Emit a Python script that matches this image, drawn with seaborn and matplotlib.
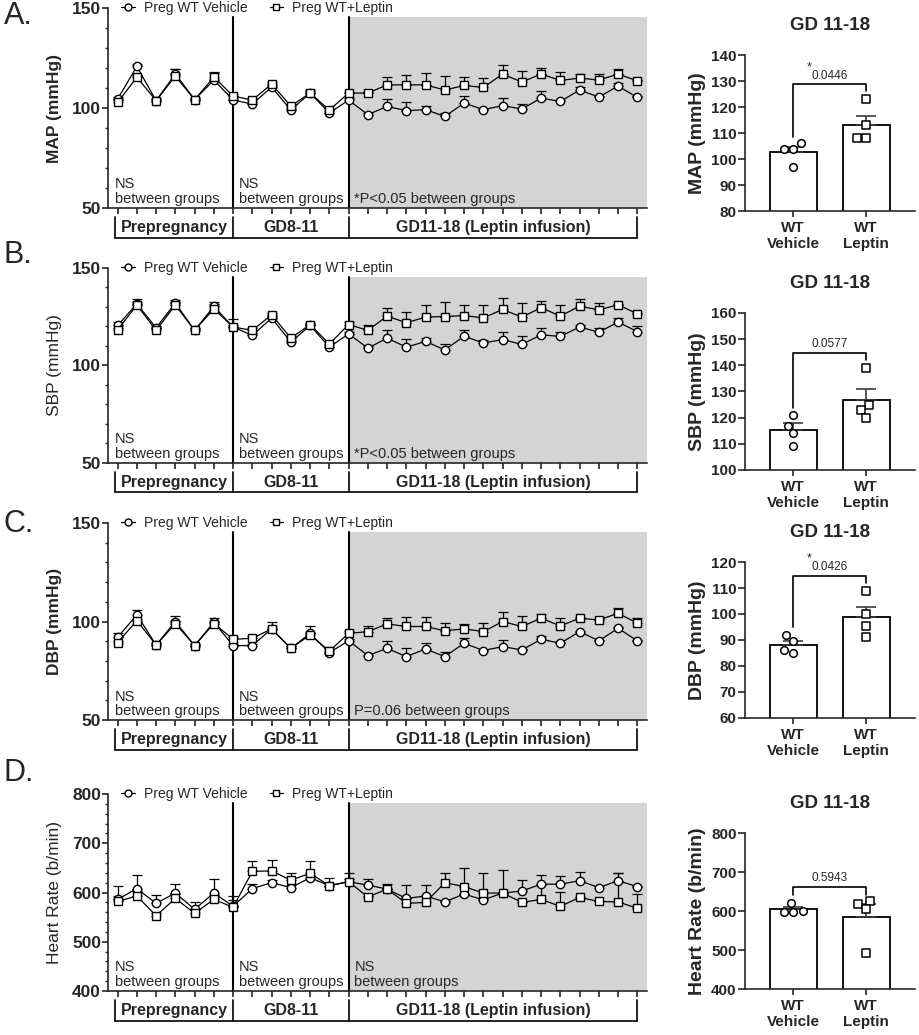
import numpy as np
import matplotlib
matplotlib.use("Agg")
import matplotlib.pyplot as plt
from matplotlib.lines import Line2D
from matplotlib.ticker import MultipleLocator
import seaborn as sns

sns.set_style("ticks")
plt.rcParams["font.family"] = ["Liberation Sans", "DejaVu Sans"]

# ==========================
# Data
# ==========================

days = np.arange(28)   # 0-6 prepregnancy, 6-12 GD8-11, 12-27 GD11-18

# MAP
map_veh = [104.5, 120.8, 103.7, 117.1, 104.2, 114.0, 104.0,
           102.0, 110.5, 99.0, 107.5, 97.5, 104.0,
           96.7, 100.8, 98.7, 99.2, 95.8, 102.5, 99.2, 101.2, 99.5, 105.0, 103.3, 109.0, 105.5, 111.0, 105.3]
map_veh_err = [1, 1, 1, 2.5, 1, 3.5, 1,
               1, 1, 1, 1.5, 1, 1,
               1, 3.9, 4.5, 1.8, 1.5, 3.3, 0.5, 3.8, 2.5, 3.5, 0.5, 1.5, 0.5, 1.5, 0.5]
map_lep = [102.8, 115.4, 103.7, 116.0, 104.2, 115.5, 106.0,
           104.0, 112.0, 101.0, 107.5, 99.0, 107.5,
           107.5, 111.6, 111.6, 111.6, 109.0, 111.3, 110.3, 117.0, 113.0, 117.0, 113.8, 115.0, 114.0, 117.0, 113.6]
map_lep_err = [1, 1, 1, 3.6, 1, 2.5, 1,
               1, 1, 1, 1, 1, 0.5,
               0.5, 3.8, 5, 5.8, 6.8, 4, 4.7, 4.3, 5.6, 3, 4, 2, 3, 2.4, 0.5]

# SBP
sbp_veh = [120.5, 131.6, 119.3, 132.0, 118.0, 130.3, 119.7,
           115.4, 124.3, 112.0, 120.5, 109.4, 116.2,
           108.9, 114.0, 109.4, 112.3, 108.0, 115.0, 111.5, 113.3, 110.8, 115.7, 114.9, 119.7, 117.1, 122.2, 117.4]
sbp_veh_err = [1.7, 2.6, 1, 1.5, 1, 2, 1,
               1, 1, 1, 1, 1, 1,
               1, 4, 4.3, 1.9, 3.1, 3.3, 1.7, 4.1, 4.1, 3.6, 2.2, 1, 2.2, 2.1, 2.6]
sbp_lep = [118.3, 131.0, 118.0, 131.0, 118.0, 129.0, 119.7,
           118.0, 126.0, 114.0, 121.0, 111.0, 121.0,
           118.0, 125.3, 121.9, 124.8, 125.1, 125.6, 124.4, 128.7, 124.8, 129.6, 125.3, 130.4, 128.5, 131.1, 126.5]
sbp_lep_err = [1, 1.5, 1, 1.5, 1, 2.5, 4.3,
               1, 1, 1, 1, 1, 1.5,
               2.5, 4.1, 5.5, 6, 7.4, 5.2, 6.7, 5.8, 7.2, 3.7, 5.8, 3.8, 3.3, 0.5, 0.5]

# DBP
dbp_veh = [92.0, 103.4, 88.1, 100.0, 87.8, 99.7, 87.8,
           87.8, 96.3, 86.4, 94.0, 84.2, 90.3,
           82.7, 86.4, 82.2, 86.1, 82.2, 89.0, 85.3, 87.3, 85.6, 91.0, 89.0, 94.9, 90.2, 96.6, 90.2]
dbp_veh_err = [2, 2.6, 1, 3, 1, 2, 1,
               1, 3.4, 1, 3.8, 3, 1,
               0.5, 3.8, 4.2, 2.9, 2.5, 2.5, 0.5, 3.4, 0.5, 1.9, 0.5, 0.5, 0.5, 0.5, 0.5]
dbp_lep = [89.3, 100.5, 88.1, 99.0, 87.8, 99.0, 91.0,
           91.5, 96.3, 86.4, 93.2, 85.0, 94.0,
           94.9, 98.8, 97.5, 97.5, 95.3, 96.3, 94.9, 100.0, 97.5, 101.7, 97.8, 101.7, 100.8, 104.2, 99.2]
dbp_lep_err = [1, 1, 1, 1.5, 1, 1, 1,
               1, 1.5, 1, 1, 1, 1,
               2.6, 3.2, 5, 5, 4.2, 2.5, 4.6, 5, 5.4, 2, 3.9, 0.5, 0.5, 2.6, 2.5]

# Heart rate
hr_veh = [586, 608, 578, 599, 566, 599, 572,
          608, 620, 610, 630, 614, 622,
          615, 607, 588, 593, 581, 597, 585, 599, 603, 617, 617, 624, 610, 624, 612]
hr_veh_err = [28, 27, 17, 19, 15, 28, 21,
              10, 5, 5, 5, 5, 5,
              12, 11, 1, 1, 1, 1, 1, 1, 22, 18, 17, 18, 4, 15, 1]
hr_lep = [582, 593, 553, 588, 558, 586, 570,
          643, 644, 625, 639, 614, 622,
          591, 607, 578, 580, 620, 612, 599, 599, 580, 586, 572, 590, 582, 581, 568]
hr_lep_err = [10, 10, 5, 10, 8, 10, 15,
              22, 22, 14, 25, 16, 17,
              1, 1, 37, 35, 19, 37, 40, 47, 1, 30, 30, 1, 1, 58, 29]

phase_labels = ["Prepregnancy", "GD8-11", "GD11-18 (Leptin infusion)"]
phase_edges = [-0.15, 6, 12, 27]
series_labels = ["Preg WT Vehicle", "Preg WT+Leptin"]

# Bar charts (GD 11-18 averages per animal)
groups = ["WT\nVehicle", "WT\nLeptin"]
map_pts_veh = [106, 104, 104, 97]
map_pts_lep = [123, 113, 108, 108]
sbp_pts_veh = [121, 117, 114, 109]
sbp_pts_lep = [139, 125, 123, 120]
dbp_pts_veh = [92, 89.5, 85, 86]
dbp_pts_lep = [109, 100, 95.5, 91]
hr_pts_veh = [621, 598, 600, 598]
hr_pts_lep = [627, 619, 605, 492]
p_values = ["0.0446", "0.0577", "0.0426", "0.5943"]


# ==========================
# Helpers
# ==========================

def line_panel(ax, veh, veh_err, lep, lep_err, ylim, ystep, yminor, ylabel, bold, notes):
    ax.axvspan(12, 27.5, ymin=0, ymax=0.955, color="#d4d4d4", lw=0, zorder=0)
    for xv in (6, 12):
        ax.axvline(xv, ymin=0, ymax=0.955, color="black", lw=1.5, zorder=1)

    for vals, err in ((veh, veh_err), (lep, lep_err)):
        ax.errorbar(days, vals, yerr=[np.zeros(len(err)), err], fmt="none",
                    ecolor="black", elinewidth=0.9, capsize=3.5, capthick=0.9, zorder=2)

    sns.lineplot(x=days, y=veh, ax=ax, color="black", linewidth=0.9, marker="o",
                 markersize=6, markerfacecolor="white", markeredgecolor="black",
                 markeredgewidth=1.0, zorder=3)
    sns.lineplot(x=days, y=lep, ax=ax, color="black", linewidth=0.9, marker="s",
                 markersize=5.5, markerfacecolor="white", markeredgecolor="black",
                 markeredgewidth=1.0, zorder=3)

    handles = [Line2D([], [], color="black", lw=0.9, marker="o", markersize=5,
                      mfc="white", mec="black"),
               Line2D([], [], color="black", lw=0.9, marker="s", markersize=5,
                      mfc="white", mec="black")]
    ax.legend(handles, series_labels, loc="center left", bbox_to_anchor=(0.025, 1.0),
              ncol=2, frameon=False, fontsize=10, handlelength=1.0, handletextpad=0.6,
              columnspacing=1.6, borderaxespad=0, borderpad=0)

    ax.set_xlim(-0.5, 27.5)
    ax.set_ylim(*ylim)
    ax.set_xticks(days)
    ax.set_xticklabels([])
    ax.set_yticks(np.arange(ylim[0], ylim[1] + 1, ystep))
    ax.yaxis.set_minor_locator(MultipleLocator(yminor))
    ax.tick_params(axis="y", which="major", length=4, width=1.2, pad=1, labelsize=12.5)
    ax.tick_params(axis="y", which="minor", length=2.5, width=1.0)
    ax.tick_params(axis="x", length=4, width=1.2)
    for lab in ax.get_yticklabels():
        lab.set_fontweight("bold")
    sns.despine(ax=ax)
    for sp in ("left", "bottom"):
        ax.spines[sp].set_linewidth(1.2)
    ax.set_ylabel(ylabel, fontsize=12.5, fontweight="bold" if bold else "normal", labelpad=7)

    for xn, txt in zip((-0.15, 6.3, 12.3), notes):
        ax.text(xn, ylim[0] + 0.01 * (ylim[1] - ylim[0]), txt, ha="left", va="bottom",
                fontsize=10.5, linespacing=1.05)

    trans = ax.get_xaxis_transform()
    for xb in phase_edges:
        ax.plot([xb, xb], [-0.045, -0.15], transform=trans, color="black", lw=1.2, clip_on=False)
    ax.plot([phase_edges[0], phase_edges[-1]], [-0.15, -0.15], transform=trans,
            color="black", lw=1.2, clip_on=False)
    for lab, a, b in zip(phase_labels, phase_edges[:-1], phase_edges[1:]):
        ax.text((a + b) / 2, -0.098, lab, transform=trans, ha="center", va="center",
                fontsize=11.5, fontweight="bold")


def bar_panel(ax, pts_veh, pts_lep, ylim, ystep, ylabel, ptext, star, brk):
    xs = [groups[0]] * len(pts_veh) + [groups[1]] * len(pts_lep)
    sns.barplot(x=xs, y=pts_veh + pts_lep, order=groups, errorbar=None, color="white",
                edgecolor="black", linewidth=1.3, width=0.64, saturation=1, ax=ax)
    means = [np.mean(pts_veh), np.mean(pts_lep)]
    sems = [np.std(pts_veh, ddof=1) / np.sqrt(len(pts_veh)),
            np.std(pts_lep, ddof=1) / np.sqrt(len(pts_lep))]
    ax.errorbar([0, 1], means, yerr=[[0, 0], sems], fmt="none", ecolor="#3c3c3c",
                elinewidth=1.2, capsize=7, capthick=1.2, zorder=4)
    sns.swarmplot(x=[groups[0]] * len(pts_veh), y=pts_veh, order=groups, marker="o",
                  color="white", edgecolor="black", linewidth=1.1, size=5.5, ax=ax, zorder=5)
    sns.swarmplot(x=[groups[1]] * len(pts_lep), y=pts_lep, order=groups, marker="s",
                  color="white", edgecolor="black", linewidth=1.1, size=5.5, ax=ax, zorder=5)

    rng = ylim[1] - ylim[0]
    lb, top, rb = brk
    ax.plot([0, 0, 1, 1], [lb, top, top, rb], color="black", lw=1.2, zorder=6)
    ax.text(0.5, top + 0.055 * rng, ptext, ha="center", va="center", fontsize=8.5)
    if star:
        ax.text(0.22, top + 0.11 * rng, "*", ha="center", va="center", fontsize=9)

    ax.set_xlim(-0.66, 1.67)
    ax.set_ylim(*ylim)
    ax.set_yticks(np.arange(ylim[0], ylim[1] + 1, ystep))
    ax.set_xlabel("")
    ax.tick_params(axis="y", length=5, width=1.2, pad=1, labelsize=11)
    ax.tick_params(axis="x", length=4, width=1.2, pad=3, labelsize=11)
    for lab in ax.get_yticklabels() + ax.get_xticklabels():
        lab.set_fontweight("bold")
    sns.despine(ax=ax)
    for sp in ("left", "bottom"):
        ax.spines[sp].set_linewidth(1.2)
    ax.set_ylabel(ylabel, fontsize=14, fontweight="bold", labelpad=4)
    ax.set_title("GD 11-18", fontsize=13.5, fontweight="bold", pad=18)


# ==========================
# Figure
# ==========================

fig = plt.figure(figsize=(9.19, 10.35), dpi=100)

ns = "NS\nbetween groups"
line_specs = [
    ((0.1175, 0.799, 0.5865, 0.1932), map_veh, map_veh_err, map_lep, map_lep_err,
     (50, 150), 50, 10, "MAP (mmHg)", True, [ns, ns, "*P<0.05 between groups"]),
    ((0.1175, 0.5527, 0.5865, 0.1884), sbp_veh, sbp_veh_err, sbp_lep, sbp_lep_err,
     (50, 150), 50, 10, "SBP (mmHg)", False, [ns, ns, "*P<0.05 between groups"]),
    ((0.1175, 0.3043, 0.5865, 0.1903), dbp_veh, dbp_veh_err, dbp_lep, dbp_lep_err,
     (50, 150), 50, 10, "DBP (mmHg)", True, [ns, ns, "P=0.06 between groups"]),
    ((0.1175, 0.0425, 0.5865, 0.1903), hr_veh, hr_veh_err, hr_lep, hr_lep_err,
     (400, 800), 100, 20, "Heart Rate (b/min)", False, [ns, ns, ns]),
]
for rect, v, ve, l, le, yl, ys, ym, lab, bold, notes in line_specs:
    ax = fig.add_axes(rect)
    line_panel(ax, v, ve, l, le, yl, ys, ym, lab, bold, notes)

bar_specs = [
    ((0.8107, 0.7961, 0.185, 0.1507), map_pts_veh, map_pts_lep, (80, 140), 10,
     "MAP (mmHg)", p_values[0], True, (108.5, 128.7, 126)),
    ((0.8107, 0.5459, 0.185, 0.1517), sbp_pts_veh, sbp_pts_lep, (100, 160), 10,
     "SBP (mmHg)", p_values[1], False, (123.6, 144.7, 142)),
    ((0.8107, 0.3063, 0.185, 0.1507), dbp_pts_veh, dbp_pts_lep, (60, 120), 10,
     "DBP (mmHg)", p_values[2], True, (95, 114.7, 112)),
    ((0.8107, 0.0444, 0.185, 0.1507), hr_pts_veh, hr_pts_lep, (400, 800), 100,
     "Heart Rate (b/min)", p_values[3], False, (641, 662, 641)),
]
for rect, pv, pl, yl, ys, lab, pt, star, brk in bar_specs:
    ax = fig.add_axes(rect)
    bar_panel(ax, pv, pl, yl, ys, lab, pt, star, brk)

for letter, yc in zip(["A.", "B.", "C.", "D."], [16, 255, 524, 773]):
    fig.text(0.004, 1 - yc / 1035, letter, fontsize=22, va="center", ha="left")

fig.savefig("out.png", dpi=100)
